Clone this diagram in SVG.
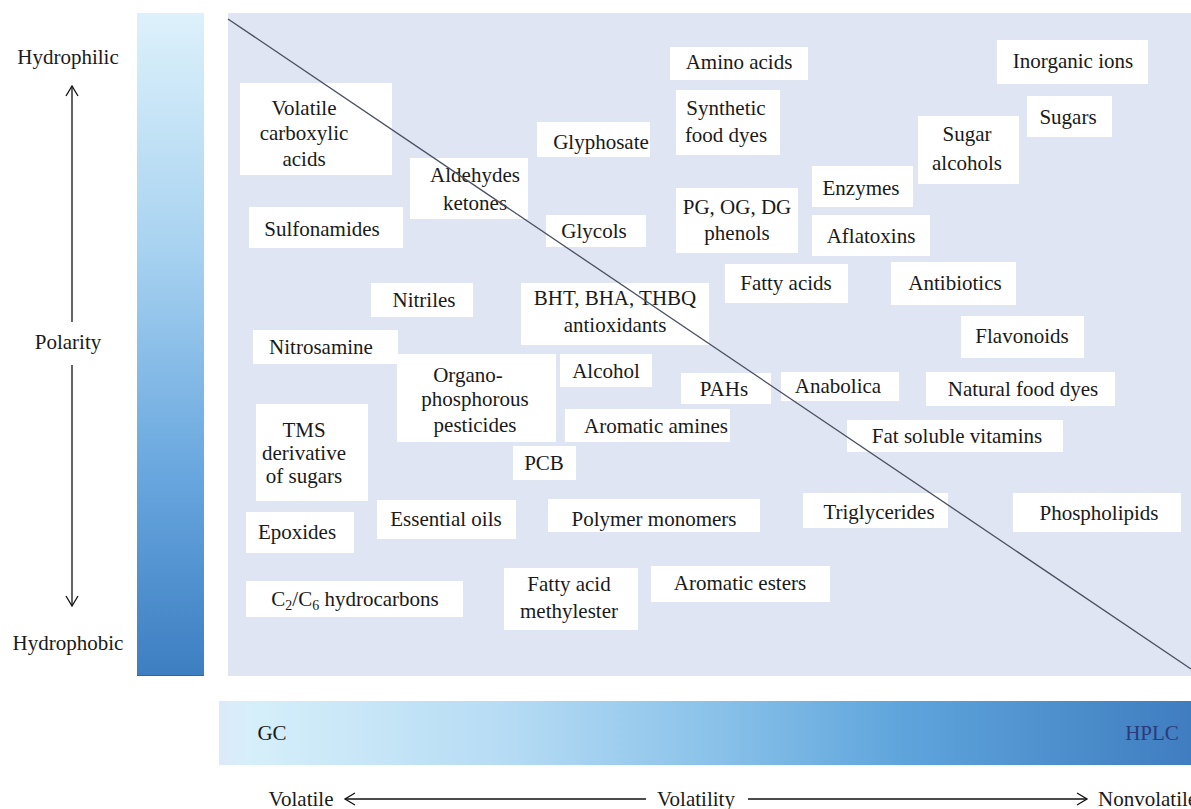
<svg xmlns="http://www.w3.org/2000/svg" width="1191" height="809" viewBox="0 0 1191 809">
<style>
text{font-family:"Liberation Serif","DejaVu Serif",serif;font-size:21px;fill:#1a1a1a;text-anchor:middle}
.b{fill:#ffffff}
.ax{stroke:#111;stroke-width:1.3;fill:none}
</style>
<defs>
<linearGradient id="gv" x1="0" y1="0" x2="0" y2="1">
<stop offset="0" stop-color="#ddf1fb"/>
<stop offset="0.35" stop-color="#a9d3f1"/>
<stop offset="0.7" stop-color="#67a6de"/>
<stop offset="1" stop-color="#3d7ec2"/>
</linearGradient>
<linearGradient id="gh" x1="0" y1="0" x2="1" y2="0">
<stop offset="0" stop-color="#dde9f8"/>
<stop offset="0.03" stop-color="#d6effa"/>
<stop offset="0.3" stop-color="#b5dbf4"/>
<stop offset="0.5" stop-color="#8cc3ea"/>
<stop offset="0.7" stop-color="#5fa5dc"/>
<stop offset="1" stop-color="#3f7dc0"/>
</linearGradient>
<marker id="ah" markerWidth="14" markerHeight="14" refX="11" refY="7" orient="auto" markerUnits="userSpaceOnUse">
<path d="M1,1 L11,7 L1,13" fill="none" stroke="#111" stroke-width="1.3"/>
</marker>
</defs>

<g id="polarity-bar">
<rect x="137" y="13" width="67" height="663" fill="url(#gv)"/>
<line x1="137" y1="675.5" x2="204" y2="675.5" stroke="#2f6aa8" stroke-width="1"/>
</g>
<g id="chart-bg"><rect x="228" y="13" width="963" height="663" fill="#dfe5f2"/></g>
<g id="volatility-bar">
<rect x="219" y="701" width="972" height="64" fill="url(#gh)"/>
<text x="272" y="740">GC</text>
<text x="1152" y="740" style="fill:#2b3a7c">HPLC</text>
</g>

<g id="axis-polarity">
<text x="68" y="64">Hydrophilic</text>
<text x="68" y="349">Polarity</text>
<text x="68" y="650">Hydrophobic</text>
</g>
<g id="axis-volatility">
<text x="301" y="806">Volatile</text>
<text x="696" y="806">Volatility</text>
<text x="1098" y="806" style="text-anchor:start">Nonvolatile</text>
</g>

<g id="connectors">
<line class="ax" x1="72" y1="322" x2="72" y2="86" marker-end="url(#ah)"/>
<line class="ax" x1="72" y1="365" x2="72" y2="606" marker-end="url(#ah)"/>
<line class="ax" x1="646" y1="799" x2="345" y2="799" marker-end="url(#ah)"/>
<line class="ax" x1="748" y1="799" x2="1087" y2="799" marker-end="url(#ah)"/>
</g>

<g id="n-vca"><rect class="b" x="240" y="83" width="152" height="92"/><text x="304" y="115">Volatile</text><text x="304" y="140">carboxylic</text><text x="304" y="166">acids</text></g>
<g id="n-glyphosate"><rect class="b" x="537" y="122" width="113" height="35"/><text x="601" y="149">Glyphosate</text></g>
<g id="n-aldehydes"><rect class="b" x="410" y="158" width="118" height="61"/><text x="475" y="182">Aldehydes</text><text x="475" y="210">ketones</text></g>
<g id="n-sulfonamides"><rect class="b" x="249" y="207" width="154" height="41"/><text x="322" y="236">Sulfonamides</text></g>
<g id="n-glycols"><rect class="b" x="546" y="215" width="100" height="32"/><text x="594" y="238">Glycols</text></g>
<g id="n-amino"><rect class="b" x="670" y="47" width="138" height="33"/><text x="739" y="69">Amino acids</text></g>
<g id="n-synthetic"><rect class="b" x="676" y="90" width="104" height="65"/><text x="726" y="115">Synthetic</text><text x="726" y="142">food dyes</text></g>
<g id="n-inorganic"><rect class="b" x="997" y="40" width="151" height="44"/><text x="1073" y="68">Inorganic ions</text></g>
<g id="n-sugars"><rect class="b" x="1027" y="96" width="85" height="41"/><text x="1068" y="124">Sugars</text></g>
<g id="n-sugaralc"><rect class="b" x="918" y="116" width="101" height="68"/><text x="967" y="141">Sugar</text><text x="967" y="170">alcohols</text></g>
<g id="n-enzymes"><rect class="b" x="812" y="166" width="101" height="41"/><text x="861" y="195">Enzymes</text></g>
<g id="n-pg"><rect class="b" x="676" y="188" width="122" height="65"/><text x="737" y="214">PG, OG, DG</text><text x="737" y="240">phenols</text></g>
<g id="n-aflatoxins"><rect class="b" x="812" y="215" width="118" height="41"/><text x="871" y="243">Aflatoxins</text></g>
<g id="n-fattyacids"><rect class="b" x="725" y="264" width="123" height="39"/><text x="786" y="290">Fatty acids</text></g>
<g id="n-antibiotics"><rect class="b" x="891" y="262" width="125" height="43"/><text x="955" y="290">Antibiotics</text></g>
<g id="n-flavonoids"><rect class="b" x="961" y="316" width="123" height="42"/><text x="1022" y="343">Flavonoids</text></g>
<g id="n-nitriles"><rect class="b" x="371" y="283" width="102" height="34"/><text x="424" y="307">Nitriles</text></g>
<g id="n-bht"><rect class="b" x="521" y="283" width="188" height="62"/><text x="615" y="305">BHT, BHA, THBQ</text><text x="615" y="332">antioxidants</text></g>
<g id="n-nitrosamine"><rect class="b" x="253" y="330" width="145" height="34"/><text x="321" y="354">Nitrosamine</text></g>
<g id="n-organo"><rect class="b" x="397" y="354" width="159" height="88"/><text x="468" y="382">Organo-</text><text x="475" y="406">phosphorous</text><text x="475" y="432">pesticides</text></g>
<g id="n-alcohol"><rect class="b" x="560" y="354" width="92" height="33"/><text x="606" y="378">Alcohol</text></g>
<g id="n-pahs"><rect class="b" x="681" y="373" width="90" height="31"/><text x="724" y="396">PAHs</text></g>
<g id="n-anabolica"><rect class="b" x="781" y="372" width="118" height="29"/><text x="838" y="393">Anabolica</text></g>
<g id="n-naturaldyes"><rect class="b" x="926" y="372" width="189" height="34"/><text x="1023" y="396">Natural food dyes</text></g>
<g id="n-tms"><rect class="b" x="256" y="404" width="112" height="97"/><text x="304" y="437">TMS</text><text x="304" y="460">derivative</text><text x="304" y="483">of sugars</text></g>
<g id="n-aromamines"><rect class="b" x="565" y="409" width="165" height="33"/><text x="656" y="433">Aromatic amines</text></g>
<g id="n-fatsoluble"><rect class="b" x="847" y="420" width="216" height="32"/><text x="957" y="443">Fat soluble vitamins</text></g>
<g id="n-pcb"><rect class="b" x="513" y="446" width="63" height="34"/><text x="544" y="470">PCB</text></g>
<g id="n-epoxides"><rect class="b" x="246" y="512" width="108" height="41"/><text x="297" y="539">Epoxides</text></g>
<g id="n-essential"><rect class="b" x="377" y="500" width="139" height="39"/><text x="446" y="526">Essential oils</text></g>
<g id="n-polymer"><rect class="b" x="548" y="499" width="212" height="33"/><text x="654" y="526">Polymer monomers</text></g>
<g id="n-triglycerides"><rect class="b" x="803" y="493" width="145" height="35"/><text x="879" y="519">Triglycerides</text></g>
<g id="n-phospholipids"><rect class="b" x="1013" y="493" width="168" height="39"/><text x="1099" y="520">Phospholipids</text></g>
<g id="n-hydrocarbons"><rect class="b" x="246" y="581" width="217" height="36"/><text x="355" y="606">C<tspan font-size="14" dy="4">2</tspan><tspan dy="-4">/C</tspan><tspan font-size="14" dy="4">6</tspan><tspan dy="-4"> hydrocarbons</tspan></text></g>
<g id="n-fame"><rect class="b" x="504" y="568" width="134" height="62"/><text x="569" y="591">Fatty acid</text><text x="569" y="618">methylester</text></g>
<g id="n-aromesters"><rect class="b" x="651" y="566" width="179" height="36"/><text x="740" y="590">Aromatic esters</text></g>

<g id="divider"><line x1="228" y1="19" x2="1191" y2="669" stroke="#4a5062" stroke-width="1.3"/></g>
</svg>
